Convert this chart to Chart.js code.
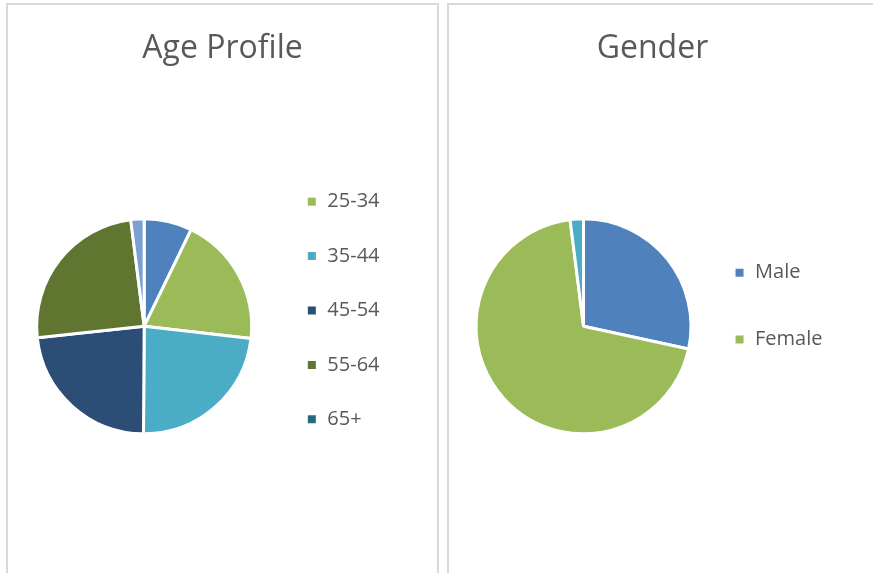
<!DOCTYPE html>
<html>
<head>
<meta charset="utf-8">
<script src="https://cdn.jsdelivr.net/npm/chart.js@4.4.1/dist/chart.umd.min.js"></script>
<style>
    body { margin: 0; background: #fff; overflow: hidden; width: 873px; height: 573px; }
    .panel { position: absolute; top: 3px; height: 640px; border: 2px solid #d9d9d9; background: #fff; }
    #agePanel { left: 6px; width: 429px; }
    #genderPanel { left: 447px; width: 460px; }
    canvas { display: block; }
</style>
</head>
<body>
<div class="panel" id="agePanel"><canvas id="ageChart" width="429" height="568"></canvas></div>
<div class="panel" id="genderPanel"><canvas id="genderChart" width="407" height="568"></canvas></div>
<script>
const ageLabels = ["18-24", "25-34", "35-44", "45-54", "55-64", "65+", "Not stated"];
const ageValues = [7.2, 19.6, 23.3, 23.2, 24.7, 0, 2.0];
const ageColors = ["#4F81BD", "#9BBB59", "#4BACC6", "#2C4D75", "#5F7530", "#276A7C", "#7C9FD1"];

const genderLabels = ["Male", "Female", "Other"];
const genderValues = [28.4, 69.6, 2.0];
const genderColors = ["#4F81BD", "#9BBB59", "#4BACC6"];

Chart.defaults.font.family = "'Open Sans', sans-serif";
Chart.defaults.color = "#595959";

// keep the title centred over the whole panel, not just the padded area
const centerTitle = {
    id: "centerTitle",
    afterLayout: function (chart) {
        chart.titleBlock.left = 0;
        chart.titleBlock.right = chart.width;
    },
};

function pieChart(id, title, labels, values, colors, opts) {
    const ctx = document.getElementById(id).getContext("2d");
    return new Chart(ctx, {
        type: "pie",
        data: {
            labels: labels,
            datasets: [
                {
                    data: values,
                    backgroundColor: colors,
                    borderColor: "#ffffff",
                    borderWidth: 3,
                    radius: 107.5,
                },
            ],
        },
        options: {
            responsive: false,
            animation: false,
            layout: { padding: opts.padding },
            plugins: {
                title: {
                    display: true,
                    text: title,
                    font: { size: 32, weight: "normal" },
                    padding: { top: 24.8, bottom: opts.titleGap },
                },
                legend: {
                    position: "right",
                    align: "start",
                    fullSize: false,
                    labels: {
                        // white slice border eats 1.5px of the box on each side
                        boxWidth: 11,
                        boxHeight: 11,
                        padding: opts.legendGap,
                        font: { size: 20 },
                        filter: opts.filter,
                    },
                },
                tooltip: { enabled: false },
            },
        },
        plugins: [centerTitle],
    });
}

document.addEventListener("DOMContentLoaded", function () {
    pieChart("ageChart", "Age Profile", ageLabels, ageValues, ageColors, {
        padding: { left: 8.4, right: 47.5, top: 0, bottom: 77.7 },
        titleGap: 89.1,
        legendGap: 34.4,
        filter: (item) => item.index >= 1 && item.index <= 5,
    });

    pieChart("genderChart", "Gender", genderLabels, genderValues, genderColors, {
        padding: { left: 30.7, right: 23.5, top: 0, bottom: 136.4 },
        titleGap: 147.8,
        legendGap: 46.7,
        filter: (item) => item.index <= 1,
    });
});
</script>
</body>
</html>
